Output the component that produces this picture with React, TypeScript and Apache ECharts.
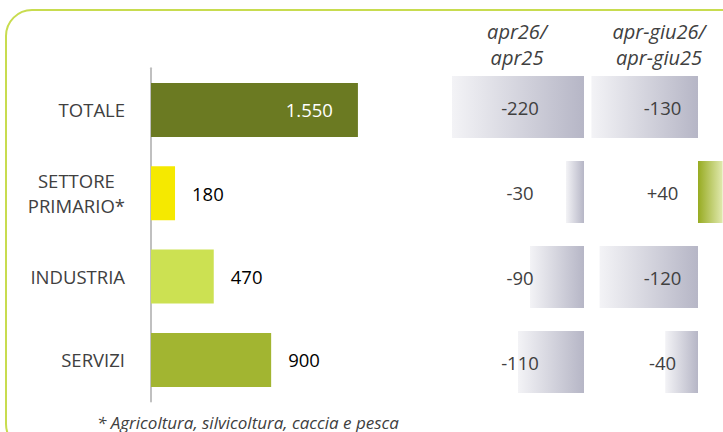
import React, { useEffect, useRef } from 'react';
import * as echarts from 'echarts';

// ---- data ----
const categories = ['TOTALE', 'SETTORE\nPRIMARIO*', 'INDUSTRIA', 'SERVIZI'];
const employed = [1550, 180, 470, 900];
const changeApr = [-220, -30, -90, -110];
const changeAprJun = [-130, 40, -120, -40];
const columnHeaders = ['apr26/\napr25', 'apr-giu26/\napr-giu25'];
const footnote = '* Agricoltura, silvicoltura, caccia e pesca';

// ---- styles ----
const barColors = ['#6b7a22', '#f5e900', '#cce152', '#a2b531'];
const FONT = '"Open Sans", "Noto Sans", sans-serif';
const TEXT = '#404040';

const fmtThousands = (v: number) => String(v).replace(/\B(?=(\d{3})+(?!\d))/g, '.');
const fmtSigned = (v: number) => (v > 0 ? '+' : '') + String(v);

const grayGrad = () =>
  new echarts.graphic.LinearGradient(0, 0, 1, 0, [
    { offset: 0, color: '#f3f3f6' },
    { offset: 1, color: '#b6b6c6' },
  ]);
const greenGrad = () =>
  new echarts.graphic.LinearGradient(0, 0, 1, 0, [
    { offset: 0, color: '#97ab22' },
    { offset: 1, color: '#e0e9ae' },
  ]);

export default function App() {
  const ref = useRef<HTMLDivElement>(null);

  useEffect(() => {
    if (!ref.current) return;
    const chart = echarts.init(ref.current, undefined, { renderer: 'svg' });

    const option: any = {
      animation: false,
      textStyle: { fontFamily: FONT },
      grid: [
        { left: 151, top: 68.3, width: 267, height: 333.3 },
        { left: 434, top: 64.5, width: 150, height: 340 },
        { left: 575, top: 64.5, width: 147.6, height: 340 },
      ],
      xAxis: [
        { gridIndex: 0, type: 'value', min: 0, max: 2000, show: false },
        { gridIndex: 1, type: 'value', min: -250, max: 0, show: false },
        { gridIndex: 2, type: 'value', min: -150, max: 30, show: false },
      ],
      yAxis: [
        {
          gridIndex: 0,
          type: 'category',
          data: categories,
          inverse: true,
          axisLine: { show: true, lineStyle: { color: '#c0c0c0', width: 2 } },
          axisTick: { show: false },
          axisLabel: {
            color: TEXT,
            fontSize: 19,
            fontFamily: FONT,
            margin: 26,
            lineHeight: 25,
            align: 'right',
            formatter: (v: string) =>
              v
                .split('\n')
                .map((s) => `{c|${s}}`)
                .join('\n'),
            rich: {
              c: {
                align: 'center',
                color: TEXT,
                fontSize: 18.5,
                fontFamily: FONT,
                lineHeight: 25,
              },
            },
          },
        },
        { gridIndex: 1, type: 'category', data: categories, inverse: true, show: false },
        { gridIndex: 2, type: 'category', data: categories, inverse: true, show: false },
      ],
      series: [
        {
          type: 'bar',
          xAxisIndex: 0,
          yAxisIndex: 0,
          barWidth: 54,
          data: employed.map((v, i) => ({
            value: v,
            itemStyle: { color: barColors[i] },
            label:
              i === 0
                ? { position: 'insideRight', distance: 25, color: '#ffffff' }
                : undefined,
          })),
          label: {
            show: true,
            position: 'right',
            distance: 17,
            color: '#000000',
            fontSize: 18.5,
            fontFamily: FONT,
            formatter: (p: any) => fmtThousands(p.value),
          },
        },
        {
          type: 'bar',
          xAxisIndex: 1,
          yAxisIndex: 1,
          barWidth: 62,
          data: changeApr.map((v) => ({ value: v, itemStyle: { color: grayGrad() } })),
          label: {
            show: true,
            position: 'insideRight',
            distance: 64,
            align: 'center',
            color: TEXT,
            fontSize: 18.5,
            fontFamily: FONT,
            formatter: (p: any) => fmtSigned(p.value),
          },
        },
        {
          type: 'bar',
          xAxisIndex: 2,
          yAxisIndex: 2,
          barWidth: 62,
          data: changeAprJun.map((v) => ({
            value: v,
            itemStyle: { color: v >= 0 ? greenGrad() : grayGrad() },
            label: v >= 0 ? { position: 'insideLeft', distance: -35.5 } : undefined,
          })),
          label: {
            show: true,
            position: 'insideRight',
            distance: 35.5,
            align: 'center',
            color: TEXT,
            fontSize: 18.5,
            fontFamily: FONT,
            formatter: (p: any) => fmtSigned(p.value),
          },
        },
      ],
      graphic: [
        {
          type: 'rect',
          shape: { x: 6, y: 10, width: 745, height: 440, r: 26 },
          style: { fill: 'none', stroke: '#c8dc4f', lineWidth: 2 },
          silent: true,
        },
        {
          type: 'text',
          x: 517,
          y: 44,
          style: {
            text: columnHeaders[0],
            font: `italic 20px ${FONT}`,
            fill: TEXT,
            align: 'center',
            verticalAlign: 'middle',
            lineHeight: 26,
          },
        },
        {
          type: 'text',
          x: 659,
          y: 44,
          style: {
            text: columnHeaders[1],
            font: `italic 20px ${FONT}`,
            fill: TEXT,
            align: 'center',
            verticalAlign: 'middle',
            lineHeight: 26,
          },
        },
        {
          type: 'text',
          x: 97,
          y: 422,
          style: {
            text: footnote,
            font: `italic 17px ${FONT}`,
            fill: TEXT,
            align: 'left',
            verticalAlign: 'middle',
          },
        },
      ],
    };

    chart.setOption(option);
    return () => chart.dispose();
  }, []);

  return (
    <div
      ref={ref}
      style={{ position: 'fixed', left: 0, top: 0, width: 723, height: 432, background: '#fff' }}
    />
  );
}
